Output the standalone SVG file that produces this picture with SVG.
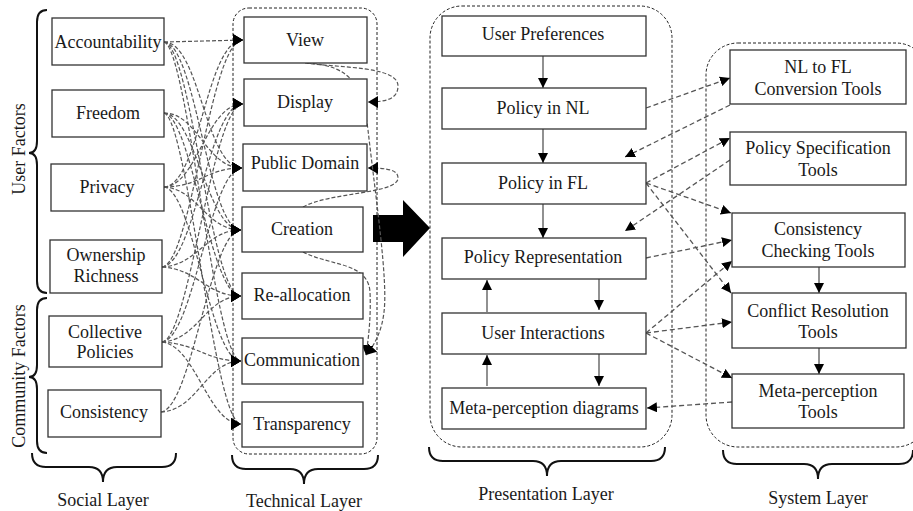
<svg xmlns="http://www.w3.org/2000/svg" width="913" height="511" viewBox="0 0 913 511">
  <defs>
    <style>
      .box { fill: #fff; stroke: #333; stroke-width: 1.3; }
      .lbl { font-family: "Liberation Serif", "Times New Roman", serif; font-size: 18px; fill: #1a1a1a; text-anchor: middle; }
      .cont { fill: none; stroke: #222; stroke-width: 1; stroke-dasharray: 3 2; }
      .brace { fill: none; stroke: #111; stroke-width: 2; }
      .tangle { fill: none; stroke: #555; stroke-width: 1.2; stroke-dasharray: 4 2; marker-end: url(#ah); }
      .dash { fill: none; stroke: #555; stroke-width: 1.3; stroke-dasharray: 5 3; marker-end: url(#ahs); }
      .solid { fill: none; stroke: #555; stroke-width: 1.3; marker-end: url(#ahs); }
    </style>
    <marker id="ah" markerUnits="userSpaceOnUse" markerWidth="10" markerHeight="12" refX="10" refY="6" orient="auto">
      <path d="M0,0 L10,6 L0,12 z" fill="#000"/>
    </marker>
    <marker id="ahs" markerUnits="userSpaceOnUse" markerWidth="10" markerHeight="10" refX="10" refY="5" orient="auto">
      <path d="M0,0 L10,5 L0,10 z" fill="#000"/>
    </marker>
  </defs>
  <rect width="913" height="511" fill="#fff"/>

  <!-- layer containers -->
  <g id="containers">
    <rect class="cont" x="233" y="8" width="144" height="446" rx="16"/>
    <rect class="cont" x="430" y="6" width="242" height="441" rx="32"/>
    <rect class="cont" x="706" y="43" width="222" height="404" rx="32"/>
  </g>

  <!-- braces and layer captions -->
  <g id="braces">
    <path class="brace" d="M47,10 Q37,10 37,22 L37,141 Q37,153 29,153 Q37,153 37,165 L37,281 Q37,293 47,293"/>
    <path class="brace" d="M47,298 Q37,298 37,310 L37,365 Q37,377 29,377 Q37,377 37,389 L37,441 Q37,453 47,453"/>
    <path class="brace" d="M32,453 Q32,467 46,467 L89,467 Q103,467 103,482 Q103,467 117,467 L162,467 Q176,467 176,453"/>
    <path class="brace" d="M232,455 Q232,469 246,469 L290,469 Q304,469 304,484 Q304,469 318,469 L364,469 Q378,469 378,455"/>
    <path class="brace" d="M429,447 Q429,461 443,461 L533,461 Q547,461 547,476 Q547,461 561,461 L651,461 Q665,461 665,447"/>
    <path class="brace" d="M723,450 Q723,464 737,464 L804,464 Q818,464 818,479 Q818,464 832,464 L899,464 Q913,464 913,450"/>
    <text class="lbl" transform="translate(25,149) rotate(-90)">User Factors</text>
    <text class="lbl" transform="translate(25,376) rotate(-90)">Community Factors</text>
    <text class="lbl" x="103" y="506">Social Layer</text>
    <text class="lbl" x="304" y="507">Technical Layer</text>
    <text class="lbl" x="546" y="500">Presentation Layer</text>
    <text class="lbl" x="818" y="504">System Layer</text>
  </g>

  <!-- transition arrow -->
  <polygon id="transition" points="373,215 403,215 403,200 430,228 403,257 403,242 373,242" fill="#000"/>

  <!-- connectors -->
  <g id="connectors">
    <!-- social factors to technical components -->
    <path class="tangle" d="M164,42 L243,40"/>
    <path class="tangle" d="M164,42 C200,42 205,168 242,168"/>
    <path class="tangle" d="M164,42 C196,44 208,230 241,230"/>
    <path class="tangle" d="M164,42 C192,46 210,296 241,296"/>
    <path class="tangle" d="M164,42 C188,48 214,361 241,361"/>

    <path class="tangle" d="M164,113 C198,113 206,168 242,168"/>
    <path class="tangle" d="M164,113 C196,115 207,230 241,230"/>
    <path class="tangle" d="M164,113 C192,117 210,296 241,296"/>
    <path class="tangle" d="M164,113 C188,119 214,424 241,424"/>

    <path class="tangle" d="M164,187 C200,185 206,40 243,40"/>
    <path class="tangle" d="M164,187 C198,185 206,104 243,104"/>
    <path class="tangle" d="M164,187 C200,187 206,168 242,168"/>
    <path class="tangle" d="M164,187 C198,189 206,230 241,230"/>
    <path class="tangle" d="M164,187 C194,191 210,361 241,361"/>

    <path class="tangle" d="M162,267 C192,263 210,40 243,40"/>
    <path class="tangle" d="M162,267 C196,263 208,104 243,104"/>
    <path class="tangle" d="M162,267 C198,265 206,230 241,230"/>
    <path class="tangle" d="M162,267 C198,269 206,296 241,296"/>

    <path class="tangle" d="M162,342 C190,338 212,104 243,104"/>
    <path class="tangle" d="M162,342 C194,338 210,168 242,168"/>
    <path class="tangle" d="M162,342 C198,340 206,296 241,296"/>
    <path class="tangle" d="M162,342 C198,344 206,361 241,361"/>
    <path class="tangle" d="M162,342 C196,346 208,424 241,424"/>

    <path class="tangle" d="M161,412 C192,408 210,230 241,230"/>
    <path class="tangle" d="M161,412 C198,410 206,361 241,361"/>

    <!-- links inside the technical layer -->
    <path class="tangle" d="M305,63 C340,68 398,66 398,86 C398,98 388,102 368,102"/>
    <path class="tangle" d="M303,207 C330,192 398,194 398,178 C398,170 388,168 368,168"/>
    <path class="tangle" d="M307,63 C352,66 362,85 368,130 C376,200 388,280 384,312 C382,330 375,345 366,355"/>
    <path class="tangle" d="M303,252 C330,266 368,262 370,292 C371,315 369,335 366,355"/>

    <!-- presentation layer flow -->
    <path class="solid" d="M543,56 L543,88"/>
    <path class="solid" d="M543,129 L543,163"/>
    <path class="solid" d="M543,204 L543,238"/>
    <path class="solid" d="M599,279 L599,310"/>
    <path class="solid" d="M487,312 L487,280"/>
    <path class="solid" d="M599,354 L599,386"/>
    <path class="solid" d="M487,386 L487,355"/>

    <!-- system layer flow -->
    <path class="solid" d="M819,267 L819,293"/>
    <path class="solid" d="M819,348 L819,374"/>

    <!-- presentation / system exchanges -->
    <path class="dash" d="M646,108 L730,78"/>
    <path class="dash" d="M730,105 L625,157"/>
    <path class="dash" d="M646,183 L730,138"/>
    <path class="dash" d="M730,160 L625,231"/>
    <path class="dash" d="M646,183 L731,213"/>
    <path class="dash" d="M646,183 L731,293"/>
    <path class="dash" d="M646,258 L732,240"/>
    <path class="dash" d="M646,333 L732,261"/>
    <path class="dash" d="M646,333 L732,322"/>
    <path class="dash" d="M646,333 L732,378"/>
    <path class="dash" d="M732,402 L647,408"/>
  </g>

  <!-- social layer -->
  <g id="accountability"><rect class="box" x="52" y="18" width="112" height="47"/><text class="lbl" x="108" y="48">Accountability</text></g>
  <g id="freedom"><rect class="box" x="52" y="90" width="112" height="47"/><text class="lbl" x="108" y="119">Freedom</text></g>
  <g id="privacy"><rect class="box" x="51" y="164" width="113" height="47"/><text class="lbl" x="107" y="193">Privacy</text></g>
  <g id="ownership"><rect class="box" x="50" y="240" width="112" height="53"/><text class="lbl" x="106" y="261">Ownership</text><text class="lbl" x="106" y="282">Richness</text></g>
  <g id="collective"><rect class="box" x="49" y="316" width="113" height="51"/><text class="lbl" x="105" y="338">Collective</text><text class="lbl" x="105" y="358">Policies</text></g>
  <g id="consistency"><rect class="box" x="48" y="390" width="113" height="47"/><text class="lbl" x="104" y="418">Consistency</text></g>

  <!-- technical layer -->
  <g id="view"><rect class="box" x="244" y="17" width="123" height="46"/><text class="lbl" x="305" y="46">View</text></g>
  <g id="display"><rect class="box" x="244" y="79" width="123" height="47"/><text class="lbl" x="305" y="108">Display</text></g>
  <g id="public-domain"><rect class="box" x="243" y="144" width="124" height="47"/><text class="lbl" x="305" y="169">Public Domain</text></g>
  <g id="creation"><rect class="box" x="242" y="207" width="121" height="45"/><text class="lbl" x="302" y="235">Creation</text></g>
  <g id="re-allocation"><rect class="box" x="242" y="273" width="121" height="46"/><text class="lbl" x="302" y="301">Re-allocation</text></g>
  <g id="communication"><rect class="box" x="242" y="338" width="121" height="46"/><text class="lbl" x="302" y="366">Communication</text></g>
  <g id="transparency"><rect class="box" x="242" y="402" width="121" height="45"/><text class="lbl" x="302" y="430">Transparency</text></g>

  <!-- presentation layer -->
  <g id="user-preferences"><rect class="box" x="442" y="16" width="204" height="40"/><text class="lbl" x="543" y="40">User Preferences</text></g>
  <g id="policy-nl"><rect class="box" x="442" y="88" width="204" height="41"/><text class="lbl" x="543" y="114">Policy in NL</text></g>
  <g id="policy-fl"><rect class="box" x="442" y="163" width="204" height="41"/><text class="lbl" x="543" y="189">Policy in FL</text></g>
  <g id="policy-representation"><rect class="box" x="442" y="238" width="204" height="41"/><text class="lbl" x="543" y="263">Policy Representation</text></g>
  <g id="user-interactions"><rect class="box" x="442" y="313" width="204" height="41"/><text class="lbl" x="543" y="339">User Interactions</text></g>
  <g id="meta-perception-diagrams"><rect class="box" x="442" y="388" width="204" height="41"/><text class="lbl" x="544" y="414">Meta-perception diagrams</text></g>

  <!-- system layer -->
  <g id="nl-to-fl"><rect class="box" x="730" y="50" width="176" height="54"/><text class="lbl" x="818" y="73">NL to FL</text><text class="lbl" x="818" y="95">Conversion Tools</text></g>
  <g id="policy-specification"><rect class="box" x="730" y="132" width="176" height="53"/><text class="lbl" x="818" y="154">Policy Specification</text><text class="lbl" x="818" y="176">Tools</text></g>
  <g id="consistency-checking"><rect class="box" x="732" y="213" width="173" height="54"/><text class="lbl" x="818" y="235">Consistency</text><text class="lbl" x="818" y="257">Checking Tools</text></g>
  <g id="conflict-resolution"><rect class="box" x="732" y="293" width="174" height="55"/><text class="lbl" x="818" y="317">Conflict Resolution</text><text class="lbl" x="818" y="338">Tools</text></g>
  <g id="meta-perception-tools"><rect class="box" x="732" y="374" width="172" height="54"/><text class="lbl" x="818" y="397">Meta-perception</text><text class="lbl" x="818" y="418">Tools</text></g>
</svg>
